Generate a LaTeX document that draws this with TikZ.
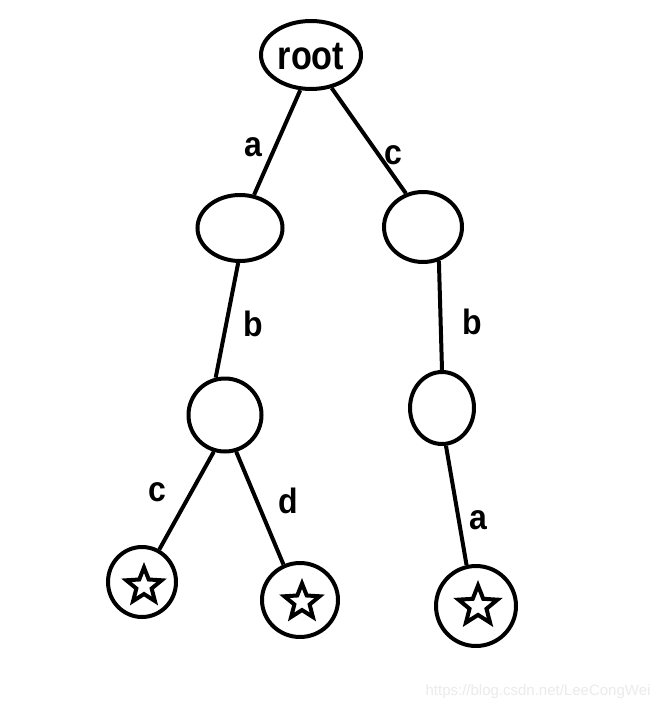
\documentclass[tikz,border=0pt]{standalone}
\usepackage{fontspec}
\usepackage{graphicx}
\setmainfont{Liberation Sans}
\usetikzlibrary{shapes.geometric}
\tikzset{
  tnode/.style={ellipse, draw, line width=4pt, inner sep=0pt},
  edge/.style={line width=4pt},
  lbl/.style={inner sep=0pt, font=\fontsize{32}{32}\selectfont\bfseries},
  starmark/.style={star, star points=5, star point ratio=2.3, draw, line width=4pt, inner sep=0pt, minimum size=37pt},
}
\newcommand{\tall}[1]{\scalebox{1}[1.1]{#1}}
\begin{document}
\begin{tikzpicture}[x=1pt,y=-1pt]
\useasboundingbox (0,0) rectangle (666,711);
\fill[white] (0,0) rectangle (666,711);
% nodes
\node[tnode, minimum width=100pt, minimum height=68pt] (root) at (311,55) {};
\node[inner sep=0pt, font=\fontsize{36}{36}\selectfont\bfseries] (roottxt) at (311,57) {\scalebox{0.95}[1.12]{root}};
\node[tnode, minimum width=85pt, minimum height=66pt] (A) at (240,228) {};
\node[tnode, minimum width=78pt, minimum height=70pt] (C) at (423,227) {};
\node[tnode, minimum width=73pt, minimum height=73pt] (AB) at (225,415) {};
\node[tnode, minimum width=64pt, minimum height=72pt] (CB) at (442,408) {};
\node[tnode, minimum width=68pt, minimum height=70pt] (L1) at (142,582) {};
\node[tnode, minimum width=76pt, minimum height=74pt] (L2) at (300,600) {};
\node[tnode, minimum width=80pt, minimum height=80pt] (L3) at (476,606) {};
% stars
\node[starmark] (s1) at (144,586) {};
\node[starmark] (s2) at (302,602) {};
\node[starmark, minimum size=41pt] (s3) at (478,606) {};
% edges
\draw[edge] (root.-107) -- (A.67);
\draw[edge] (root.-58) -- (C.117);
\draw[edge] (A.-93) -- (AB.104);
\draw[edge] (C.-65) -- (CB.90);
\draw[edge] (AB.-107) -- (L1.62);
\draw[edge] (AB.-73) -- (L2.115);
\draw[edge] (CB.-84) -- (L3.103);
% labels
\node[lbl] (la) at (253,147) {\tall{a}};
\node[lbl] (lc) at (393,155) {\tall{c}};
\node[lbl] (lb1) at (253,324) {\tall{b}};
\node[lbl] (lb2) at (472,322) {\tall{b}};
\node[lbl] (lc2) at (157,492) {\tall{c}};
\node[lbl] (ld) at (288,501) {\tall{d}};
\node[lbl] (la2) at (478,520) {\tall{a}};
% watermark
\node[inner sep=0pt, text=black!8, font=\fontsize{15}{15}\selectfont] (wm) at (538,692) {https://blog.csdn.net/LeeCongWei};
\end{tikzpicture}
\end{document}
